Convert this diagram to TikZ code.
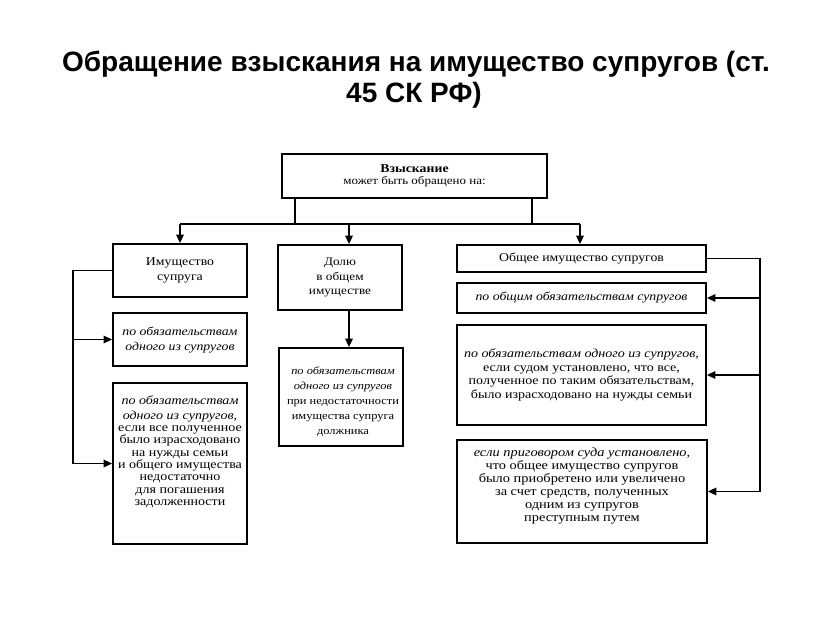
\documentclass[tikz,border=0pt]{standalone}
\usepackage{fontspec}
\setmainfont{Liberation Serif}
\newfontfamily\titlefont{Liberation Sans}
\newfontfamily\boxfont[FakeStretch=1.15]{Liberation Serif}
\usetikzlibrary{arrows.meta}
\begin{document}
\begin{tikzpicture}[x=1pt,y=-1pt,
  box/.style={draw, line width=1.8pt, inner sep=0pt, align=center,
    font=\boxfont\fontsize{12}{13}\selectfont},
  txt/.style={inner sep=0pt, align=center},
  conn/.style={line width=1.7pt},
  arr/.style={line width=1.7pt, -{Triangle[length=8.5pt,width=7.5pt]}},
  ttl/.style={font=\titlefont\bfseries\fontsize{28}{32}\selectfont, anchor=base, inner sep=0pt}
]
\useasboundingbox (0,0) rectangle (831,623);
\fill[white] (0,0) rectangle (831,623);

% title
\node[ttl] (t1) at (416,72) {Обращение взыскания на имущество супругов (ст.};
\node[ttl] (t2) at (414,103) {45 СК РФ)};

% boxes
\node[box, minimum width=265pt, minimum height=44pt] (top) at (414.5,176)
  {\textbf{Взыскание}\\[-1pt]{\fontsize{11.3}{13}\selectfont может быть обращено на:}};
\node[box, minimum width=134pt, minimum height=53pt] (L1) at (180,270.5)
  {Имущество\\[2pt]супруга};
\node[box, minimum width=134pt, minimum height=53pt,
  font=\boxfont\fontsize{12}{15}\selectfont] (L2) at (180,339.5)
  {\itshape по обязательствам\\\itshape одного из супругов};
\node[box, minimum width=134pt, minimum height=161pt] (L3) at (180,463.5) {};
\node[txt, font=\boxfont\fontsize{12.2}{12.3}\selectfont] (L3t) at (180,452)
  {\itshape по обязательствам\\[2pt]\itshape одного из супругов,\\если все полученное\\было израсходовано\\на нужды семьи\\и общего имущества\\недостаточно\\для погашения\\задолженности};
\node[box, minimum width=124pt, minimum height=65pt,
  font=\boxfont\fontsize{11.5}{14.5}\selectfont] (M1) at (340,277.5)
  {Долю\\в общем\\имуществе};
\node[box, minimum width=124pt, minimum height=98pt] (M2) at (341,397) {};
\node[txt, font=\boxfont\fontsize{10.8}{15}\selectfont] (M2t) at (343,402)
  {\itshape по обязательствам\\\itshape одного из супругов\\при недостаточности\\имущества супруга\\должника};
\node[box, minimum width=249pt, minimum height=27pt] (R1) at (581.5,258.5)
  {Общее имущество супругов};
\node[box, minimum width=249pt, minimum height=30pt] (R2) at (581.5,298)
  {\itshape по общим обязательствам супругов};
\node[box, minimum width=249pt, minimum height=100pt,
  font=\boxfont\fontsize{12.2}{13.8}\selectfont] (R3) at (581.5,375)
  {\itshape по обязательствам одного из супругов,\\если судом установлено, что все,\\полученное по таким обязательствам,\\было израсходовано на нужды семьи};
\node[box, minimum width=250pt, minimum height=103pt] (R4) at (582,491.5) {};
\node[txt, font=\boxfont\fontsize{12.5}{13}\selectfont] (R4t) at (582,486)
  {\itshape если приговором суда установлено,\\что общее имущество супругов\\было приобретено или увеличено\\за счет средств, полученных\\одним из супругов\\преступным путем};

% bus from top box
\coordinate (bl) at (180,224);
\coordinate (br) at (580,224);
\coordinate (bm) at (349,224);
\coordinate (b1) at (295,224);
\coordinate (b2) at (532,224);
\draw[conn] (top.south -| b1) -- (b1);
\draw[conn] (top.south -| b2) -- (b2);
\draw[conn] (bl) -- (br);
\draw[arr] (bl) -- (L1.north -| bl);
\draw[arr] (bm) -- (M1.north -| bm);
\draw[arr] (br) -- (R1.north -| br);
\draw[arr] (M1.south -| bm) -- (M2.north -| bm);

% left bracket
\coordinate (lx) at (73,0);
\draw[conn] (L1.west) -- (L1.west -| lx) -- (L3.west -| lx);
\draw[arr] (L2.west -| lx) -- (L2.west);
\draw[arr] (L3.west -| lx) -- (L3.west);

% right bracket
\coordinate (rx) at (760,0);
\draw[conn] (R1.east) -- (R1.east -| rx) -- (R4.east -| rx);
\draw[arr] (R2.east -| rx) -- (R2.east);
\draw[arr] (R3.east -| rx) -- (R3.east);
\draw[arr] (R4.east -| rx) -- (R4.east);
\end{tikzpicture}
\end{document}
